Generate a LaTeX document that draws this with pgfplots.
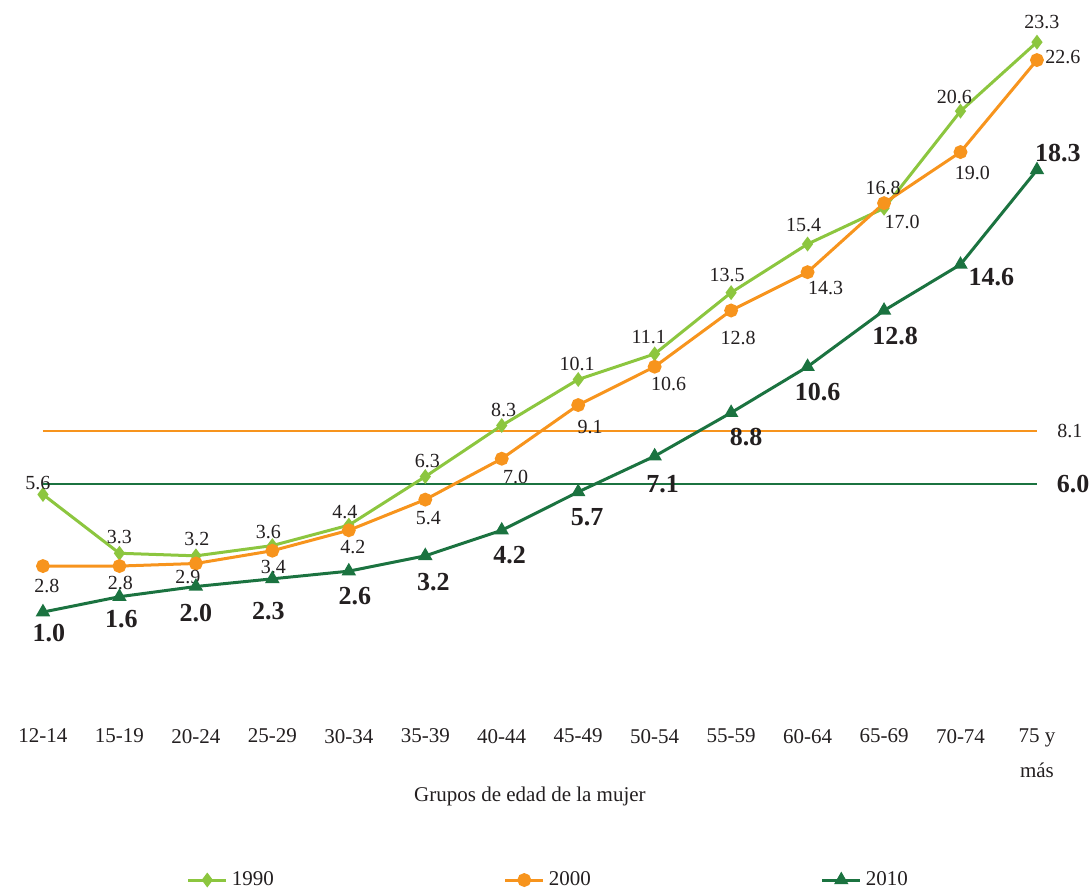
\documentclass[border=0pt]{standalone}
\usepackage{fontspec}
\setmainfont{Liberation Serif}
\usepackage{pgfplots}
\usepackage{pgfplotstable}
\pgfplotsset{compat=1.18}
\definecolor{cA}{HTML}{8CC63F}
\definecolor{cB}{HTML}{F7941D}
\definecolor{cC}{HTML}{1B7340}
\definecolor{txt}{HTML}{231F20}

\pgfplotstableread{
x y dx dy
0 5.6 -2.5 5.9
1 3.3 0 8.3
2 3.2 0.5 8.2
3 3.6 -2 7
4 4.4 -2 6.7
5 6.3 1 8
6 8.3 1 7.7
7 10.1 -0.5 8
8 11.1 -3 8.6
9 13.5 -2 8.7
10 15.4 -2 9.5
11 16.8 -0.5 10
12 20.6 -3 7.2
13 23.3 2.5 10
}\tA

\pgfplotstableread{
x y dx dy
0 2.8 2 -9.8
1 2.8 0.5 -8.3
2 2.9 -4 -6.6
3 3.4 0.5 -8
4 4.2 2 -8.2
5 5.4 1.5 -9.3
6 7.0 7 -9
7 9.1 6 -10.8
8 10.6 7 -8.7
9 12.8 3.5 -13.5
10 14.3 9 -8
11 17.0 9 -9.3
12 19.0 6 -10.7
13 22.6 13 1.7
}\tB

\pgfplotstableread{
x y dx dy
0 1.0 3 -10.7
1 1.6 1 -11.3
2 2.0 0 -13.4
3 2.3 -2 -16
4 2.6 3 -12.7
5 3.2 4 -13
6 4.2 4 -12.4
7 5.7 4.5 -12.4
8 7.1 4 -14
9 8.8 7.5 -12.3
10 10.6 5 -12.5
11 12.8 5.5 -12.8
12 14.6 15.5 -6.2
13 18.3 10.5 8.3
}\tC

\pgfplotsset{
  lbl/.style={
    nodes near coords={\pgfmathprintnumber[fixed,fixed zerofill,precision=1,assume math mode=true]{\pgfplotspointmeta}},
    point meta=y,
    visualization depends on={\thisrow{dx}\as\dx},
    visualization depends on={\thisrow{dy}\as\dy},
    nodes near coords style={anchor=center, xshift=\dx pt, yshift=\dy pt, inner sep=0pt, text=txt, font=#1},
  },
}

\begin{document}
\begin{tikzpicture}
\begin{axis}[
  scale only axis,
  width=546pt, height=356pt,
  xmin=-0.562, xmax=13.72,
  ymin=-2.911, ymax=24.95,
  clip=false,
  axis line style={draw=none},
  tick style={draw=none},
  major tick length=0pt,
  ytick=\empty,
  xtick={0,...,13},
  xticklabels={12-14,15-19,20-24,25-29,30-34,35-39,40-44,45-49,50-54,55-59,60-64,65-69,70-74,{75 y\\más}},
  xticklabel style={align=center, text=txt, font=\fontsize{10.5}{17.5}\selectfont, anchor=north, yshift=-5pt},
  xlabel={Grupos de edad de la mujer},
  xlabel style={at={(rel axis cs:0.4853,-0.1190)}, anchor=center, text=txt, font=\fontsize{10.5}{12}\selectfont},
  legend style={at={(rel axis cs:0.503,-0.2360)}, anchor=center, draw=none, fill=none,
    legend columns=3, font=\fontsize{10.5}{12}\selectfont, text=txt,
    /tikz/every even column/.append style={column sep=113pt}},
  legend image code/.code={\draw[#1, mark repeat=2, mark phase=2] plot coordinates {(0pt,0pt) (9.5pt,0pt) (19pt,0pt)};},
]
% reference lines
\addplot[cB, line width=1pt, forget plot] coordinates {(0,8.1) (13,8.1)}
  node[pos=1, anchor=west, xshift=9.7pt, inner sep=0pt, text=txt, font=\fontsize{10}{12}\selectfont] {8.1};
\addplot[cC, line width=1pt, forget plot] coordinates {(0,6.0) (13,6.0)}
  node[pos=1, anchor=west, xshift=9.4pt, inner sep=0pt, text=txt, font=\fontsize{13}{15}\selectfont\bfseries] {6.0};

\addplot[cA, line width=1.5pt, mark=diamond*, mark size=2.5pt, mark options={solid},
  lbl={\fontsize{10}{12}\selectfont}]
  table[x=x, y=y] {\tA};
\addlegendentry{1990}
\addplot[cB, line width=1.5pt, mark=*, mark size=2.7pt, mark options={solid},
  lbl={\fontsize{10}{12}\selectfont}]
  table[x=x, y=y] {\tB};
\addlegendentry{2000}
\addplot[cC, line width=1.5pt, mark=triangle*, mark size=2.7pt, mark options={solid},
  lbl={\fontsize{13}{15}\selectfont\bfseries}]
  table[x=x, y=y] {\tC};
\addlegendentry{2010}

\coordinate (bbl) at (rel axis cs:0,-0.2486);
\coordinate (btr) at (rel axis cs:1,1);
\end{axis}
\pgfresetboundingbox
\path[use as bounding box] (bbl) rectangle (btr);
\end{tikzpicture}
\end{document}
